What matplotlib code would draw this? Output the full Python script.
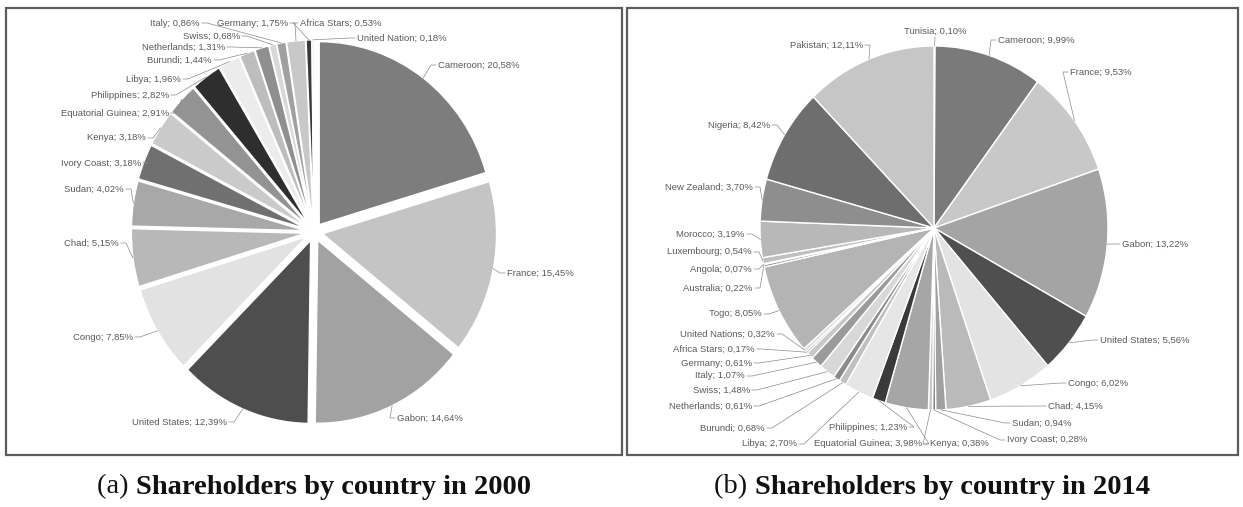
import numpy as np
import matplotlib
matplotlib.use("Agg")
import matplotlib.pyplot as plt
from matplotlib.patches import Rectangle

# ---- Data ----
countries_2000 = ["Cameroon", "France", "Gabon", "United States", "Congo", "Chad",
                  "Sudan", "Ivory Coast", "Kenya", "Equatorial Guinea", "Philippines",
                  "Libya", "Burundi", "Netherlands", "Swiss", "Italy", "Germany",
                  "Africa Stars", "United Nation"]
shares_2000 = [20.58, 15.45, 14.64, 12.39, 7.85, 5.15, 4.02, 3.18, 3.18, 2.91, 2.82,
               1.96, 1.44, 1.31, 0.68, 0.86, 1.75, 0.53, 0.18]

countries_2014 = ["Tunisia", "Cameroon", "France", "Gabon", "United States", "Congo",
                  "Chad", "Sudan", "Ivory Coast", "Kenya", "Equatorial Guinea",
                  "Philippines", "Libya", "Burundi", "Netherlands", "Swiss", "Italy",
                  "Germany", "Africa Stars", "United Nations", "Togo", "Australia",
                  "Angola", "Luxembourg", "Morocco", "New Zealand", "Nigeria", "Pakistan"]
shares_2014 = [0.10, 9.99, 9.53, 13.22, 5.56, 6.02, 4.15, 0.94, 0.28, 0.38, 3.98,
               1.23, 2.70, 0.68, 0.61, 1.48, 1.07, 0.61, 0.17, 0.32, 8.05, 0.22,
               0.07, 0.54, 3.19, 3.70, 8.42, 12.11]

# ---- Styles / layout ----
grays_2000 = ["#7d7d7d", "#c4c4c4", "#a2a2a2", "#4e4e4e", "#e2e2e2", "#b8b8b8",
              "#a8a8a8", "#707070", "#cacaca", "#939393", "#2e2e2e", "#ececec",
              "#bdbdbd", "#8f8f8f", "#d8d8d8", "#a0a0a0", "#c8c8c8", "#3a3a3a", "#e0e0e0"]
grays_2014 = ["#d0d0d0", "#7a7a7a", "#c8c8c8", "#a4a4a4", "#4f4f4f", "#e3e3e3",
              "#bababa", "#a0a0a0", "#707070", "#c8c8c8", "#a6a6a6", "#3a3a3a",
              "#e6e6e6", "#c0c0c0", "#8a8a8a", "#d8d8d8", "#9a9a9a", "#c8c8c8",
              "#555555", "#dcdcdc", "#b4b4b4", "#8c8c8c", "#d0d0d0", "#c0c0c0",
              "#b8b8b8", "#8e8e8e", "#6e6e6e", "#c6c6c6"]

# label anchors in picture pixels (x, y from top, alignment)
label_pos_2000 = [(438, 65, "left"), (507, 273, "left"), (397, 418, "left"),
                  (227, 422, "right"), (133, 337, "right"), (119, 243, "right"),
                  (124, 189, "right"), (141, 163, "right"), (146, 138, "right"),
                  (169, 113, "right"), (169, 95, "right"), (181, 79, "right"),
                  (212, 60, "right"), (225, 47, "right"), (240, 36, "right"),
                  (200, 23, "right"), (288, 23, "right"), (300, 23, "left"),
                  (357, 38, "left")]
label_pos_2014 = [(935, 31, "center"), (998, 40, "left"), (1070, 72, "left"),
                  (1122, 244, "left"), (1100, 340, "left"), (1068, 383, "left"),
                  (1048, 406, "left"), (1012, 423, "left"), (1007, 440, "left"),
                  (930, 444, "left"), (922, 444, "right"), (907, 427, "right"),
                  (797, 444, "right"), (765, 428, "right"), (752, 406, "right"),
                  (750, 390, "right"), (745, 376, "right"), (752, 363, "right"),
                  (755, 349, "right"), (775, 334, "right"), (762, 314, "right"),
                  (753, 288, "right"), (752, 269, "right"), (752, 252, "right"),
                  (745, 234, "right"), (753, 187, "right"), (770, 125, "right"),
                  (863, 45, "right")]

W, H = 1243, 507
fig = plt.figure(figsize=(W / 100, H / 100), dpi=100)
fig.patch.set_facecolor("white")

# overlay in picture pixel coordinates (y downwards)
ov = fig.add_axes([0, 0, 1, 1], zorder=5)
ov.set_xlim(0, W)
ov.set_ylim(H, 0)
ov.axis("off")
ov.patch.set_alpha(0)


def draw_pie(values, names, colors, label_pos, cx, cy, rx, ry, expl):
    k = 1.2
    ax = fig.add_axes([(cx - k * rx) / W, (H - cy - k * ry) / H,
                       2 * k * rx / W, 2 * k * ry / H], zorder=1)
    wedges, _ = ax.pie(values, colors=colors, startangle=90, counterclock=False,
                       radius=1, explode=[expl] * len(values),
                       wedgeprops=dict(edgecolor="white", linewidth=1.0))
    ax.set_aspect("auto")
    ax.set_xlim(-k, k)
    ax.set_ylim(-k, k)
    ax.axis("off")

    for w, name, v, (lx, ly, ha) in zip(wedges, names, values, label_pos):
        tm = np.deg2rad((w.theta1 + w.theta2) / 2)
        wx, wy = w.center
        ex = cx + rx * (wx + 1.0 * np.cos(tm))
        ey = cy - ry * (wy + 1.0 * np.sin(tm))
        txt = "%s; %s%%" % (name, ("%.2f" % v).replace(".", ","))
        ov.text(lx, ly, txt, ha=ha, va="center", fontsize=6.8,
                family="Liberation Sans", color="#5a5a5a")
        if ha == "left":
            px, py = lx - 2, ly
            pts = [(ex, ey), (px - 5, py), (px, py)]
        elif ha == "right":
            px, py = lx + 2, ly
            pts = [(ex, ey), (px + 5, py), (px, py)]
        else:
            px, py = lx, ly + 6
            pts = [(ex, ey), (px, py)]
        xs, ys = zip(*pts)
        ov.plot(xs, ys, color="#8a8a8a", lw=0.5)


draw_pie(shares_2000, countries_2000, grays_2000, label_pos_2000,
         314, 232, 174, 183, 0.05)
draw_pie(shares_2014, countries_2014, grays_2014, label_pos_2014,
         934, 228, 174, 182, 0.0)

# panel frames
for x0, x1 in [(6, 622), (627, 1238)]:
    ov.add_patch(Rectangle((x0, 8), x1 - x0, 447, fill=False,
                           edgecolor="#5c5c5c", lw=1.6))

# captions: regular prefix + bold title, centred under each panel
renderer = fig.canvas.get_renderer()
for xc, pre, title in [(314, "(a) ", "Shareholders by country in 2000"),
                       (932, "(b) ", "Shareholders by country in 2014")]:
    t1 = ov.text(0, 487, pre, ha="left", va="center", fontsize=20.5,
                 family="Liberation Serif", color="#111111")
    t2 = ov.text(0, 487, title, ha="left", va="center", fontsize=20.5,
                 family="Liberation Serif", weight="bold", color="#111111")
    w1 = t1.get_window_extent(renderer).width
    w2 = t2.get_window_extent(renderer).width
    x_start = xc - (w1 + w2) / 2
    t1.set_x(x_start)
    t2.set_x(x_start + w1)

fig.savefig("out.png", dpi=100, facecolor="white")
